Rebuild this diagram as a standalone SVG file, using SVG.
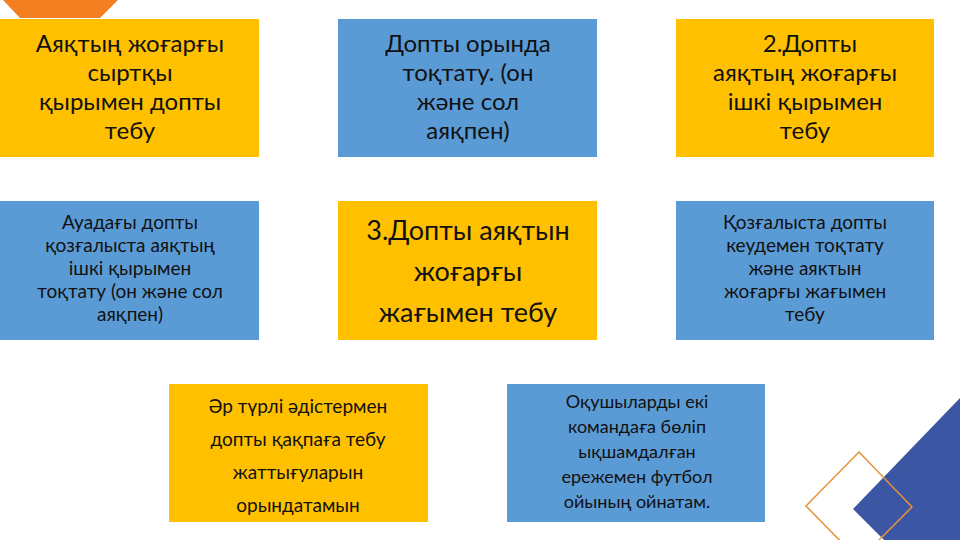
<svg xmlns="http://www.w3.org/2000/svg" width="960" height="540" viewBox="0 0 960 540">
<style>
.y{fill:#FFC000}.b{fill:#5B9BD5}
text{font-family:Lato,"Open Sans",sans-serif;fill:#111;text-anchor:middle}
.l{font-size:24px}.m{font-size:19px}.s{font-size:18px}.x{font-size:27px}
</style>
<rect width="960" height="540" fill="#fff"/>
<polygon points="3,0 118,0 100,18 20,18" fill="#F47F20"/>
<polygon points="960,398 853,509 884,540 960,540" fill="#3B56A3"/>
<polygon points="859,452 912,507 859,560 806,506" fill="none" stroke="#E8913A" stroke-width="1.5"/>
<g id="connectors"/>
<g id="n1"><rect class="y" x="0" y="19" width="259" height="138"/>
<text class="l"><tspan x="130" y="52">Аяқтың жоғарғы</tspan><tspan x="130" y="81">сыртқы</tspan><tspan x="130" y="110">қырымен допты</tspan><tspan x="130" y="139">тебу</tspan></text></g>
<g id="n2"><rect class="b" x="338" y="19" width="259" height="138"/>
<text class="l"><tspan x="468" y="52">Допты орында</tspan><tspan x="468" y="81">тоқтату. (он</tspan><tspan x="468" y="110">және сол</tspan><tspan x="468" y="139">аяқпен)</tspan></text></g>
<g id="n3"><rect class="y" x="676" y="19" width="258" height="138"/>
<text class="l"><tspan x="810" y="52">2.Допты</tspan><tspan x="805" y="81">аяқтың жоғарғы</tspan><tspan x="805" y="110">ішкі қырымен</tspan><tspan x="805" y="139">тебу</tspan></text></g>
<g id="n4"><rect class="b" x="0" y="201" width="259" height="139"/>
<text class="m"><tspan x="130" y="229">Ауадағы допты</tspan><tspan x="130" y="252">қозғалыста аяқтың</tspan><tspan x="130" y="275">ішкі қырымен</tspan><tspan x="130" y="298">тоқтату (он және сол</tspan><tspan x="130" y="321">аяқпен)</tspan></text></g>
<g id="n5"><rect class="y" x="338" y="201" width="259" height="139"/>
<text class="x"><tspan x="468" y="240">3.Допты аяқтын</tspan><tspan x="468" y="281">жоғарғы</tspan><tspan x="468" y="322">жағымен тебу</tspan></text></g>
<g id="n6"><rect class="b" x="676" y="201" width="258" height="139"/>
<text class="m"><tspan x="805" y="229">Қозғалыста допты</tspan><tspan x="805" y="252">кеудемен тоқтату</tspan><tspan x="805" y="275">және аяктын</tspan><tspan x="805" y="298">жоғарғы жағымен</tspan><tspan x="805" y="321">тебу</tspan></text></g>
<g id="n7"><rect class="y" x="169" y="384" width="259" height="138"/>
<text class="m"><tspan x="298" y="413">Әр түрлі әдістермен</tspan><tspan x="298" y="446">допты қақпаға  тебу</tspan><tspan x="298" y="479">жаттығуларын</tspan><tspan x="298" y="512">орындатамын</tspan></text></g>
<g id="n8"><rect class="b" x="507" y="384" width="258" height="138"/>
<text class="s"><tspan x="637" y="408">Оқушыларды екі</tspan><tspan x="637" y="433">командаға бөліп</tspan><tspan x="637" y="458">ықшамдалған</tspan><tspan x="637" y="483">ережемен футбол</tspan><tspan x="637" y="508">ойының ойнатам.</tspan></text></g>
</svg>
